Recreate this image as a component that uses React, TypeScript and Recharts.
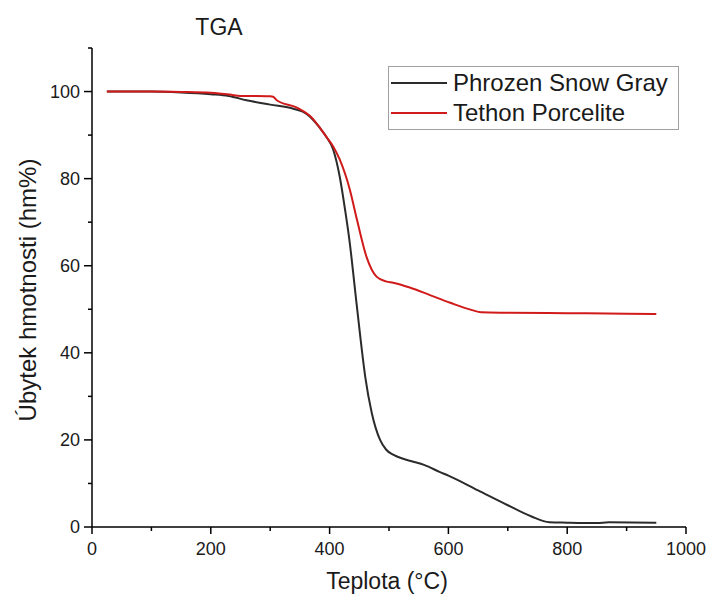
import { LineChart, Line, XAxis, YAxis } from 'recharts'

// TGA curves (temperature °C, mass %)
const phrozenTemp = [25, 50, 100, 150, 200, 230, 260, 300, 340, 360, 384, 395, 406, 417, 426, 434, 442, 451, 460, 471, 485, 495, 507, 525, 541, 560, 586, 600, 650, 700, 740, 770, 800, 850, 870, 950]
const phrozenMass = [100, 100, 100, 99.8, 99.4, 99, 98, 97, 96, 95, 91.6, 89.5, 86.7, 80.5, 72.9, 65.2, 55.5, 44.5, 34.5, 26.2, 20, 17.8, 16.6, 15.6, 15, 14.2, 12.6, 11.8, 8.4, 5, 2.4, 1.1, 1, 0.9, 1.1, 1]

const tethonTemp = [25, 100, 150, 200, 232, 250, 300, 305, 311, 345, 370, 384, 395, 406, 417, 434, 446, 462, 479, 495, 507, 535, 570, 603, 640, 655, 700, 800, 900, 950]
const tethonMass = [100, 100, 99.9, 99.7, 99.3, 99, 98.9, 98.8, 98, 96.3, 94, 91.6, 89.5, 87.4, 84.4, 77.5, 70.6, 62.1, 57.5, 56.4, 56.1, 55, 53.2, 51.5, 49.8, 49.3, 49.2, 49.1, 49, 48.9]

const xTicks = [0, 100, 200, 300, 400, 500, 600, 700, 800, 900, 1000]
const yTicks = [0, 10, 20, 30, 40, 50, 60, 70, 80, 90, 100, 110]

const seriesNames = ['Phrozen Snow Gray', 'Tethon Porcelite']
const seriesColors = ['#2b2b2b', '#d11a1a']

const phrozenData = phrozenTemp.map((t, i) => ({ t, w: phrozenMass[i] }))
const tethonData = tethonTemp.map((t, i) => ({ t, w: tethonMass[i] }))

const font = '"Liberation Sans", Arial, sans-serif'

function XTick({ x, y, payload }: any) {
  const major = payload.value % 200 === 0
  return (
    <g>
      <line x1={x} x2={x} y1={y} y2={y + (major ? 7 : 4)} stroke="#000" strokeWidth={1.5} />
      {major && (
        <text x={x} y={y + 28} textAnchor="middle" fontSize={18} fontFamily={font} fill="#1a1a1a">
          {payload.value}
        </text>
      )}
    </g>
  )
}

function YTick({ x, y, payload }: any) {
  const major = payload.value % 20 === 0 && payload.value <= 100
  return (
    <g>
      <line x1={x} x2={x - (major ? 8 : 4)} y1={y} y2={y} stroke="#000" strokeWidth={1.5} />
      {major && (
        <text x={x - 12} y={y + 6} textAnchor="end" fontSize={18} fontFamily={font} fill="#1a1a1a">
          {payload.value}
        </text>
      )}
    </g>
  )
}

export default function App() {
  return (
    <div style={{ position: 'absolute', left: 0, top: 0, width: 709, height: 602, background: '#fff', fontFamily: font }}>
      <LineChart width={709} height={602} margin={{ top: 48, right: 23, bottom: 0, left: 0 }}>
        <XAxis
          type="number"
          dataKey="t"
          domain={[0, 1000]}
          ticks={xTicks}
          interval={0}
          height={75}
          tickSize={0}
          tickMargin={0}
          tickLine={false}
          tick={<XTick />}
          axisLine={{ stroke: '#000', strokeWidth: 1.5 }}
          allowDataOverflow
        />
        <YAxis
          type="number"
          domain={[0, 110]}
          ticks={yTicks}
          interval={0}
          width={92}
          tickSize={0}
          tickMargin={0}
          tickLine={false}
          tick={<YTick />}
          axisLine={{ stroke: '#000', strokeWidth: 1.5 }}
          allowDataOverflow
        />
        <Line data={phrozenData} dataKey="w" type="monotone" stroke={seriesColors[0]} strokeWidth={2} dot={false} isAnimationActive={false} />
        <Line data={tethonData} dataKey="w" type="monotone" stroke={seriesColors[1]} strokeWidth={2} dot={false} isAnimationActive={false} />
      </LineChart>

      <svg width={709} height={602} style={{ position: 'absolute', left: 0, top: 0, pointerEvents: 'none' }}>
        <text x={219} y={35} textAnchor="middle" fontSize={23} fontFamily={font} fill="#1a1a1a">TGA</text>
        <text x={387} y={589} textAnchor="middle" fontSize={23} fontFamily={font} fill="#1a1a1a">Teplota (°C)</text>
        <text
          transform="translate(36,290) rotate(-90)"
          textAnchor="middle"
          fontSize={24}
          fontFamily={font}
          fill="#1a1a1a"
        >
          Úbytek hmotnosti (hm%)
        </text>
        <rect x={388.5} y={66.5} width={290} height={63} fill="#fff" stroke="#a0a0a0" strokeWidth={1} />
        {seriesNames.map((name, i) => (
          <g key={name}>
            <line x1={391} x2={447} y1={83 + i * 30} y2={83 + i * 30} stroke={seriesColors[i]} strokeWidth={2} />
            <text x={453} y={91 + i * 30} fontSize={24} fontFamily={font} fill="#1a1a1a">{name}</text>
          </g>
        ))}
      </svg>
    </div>
  )
}
